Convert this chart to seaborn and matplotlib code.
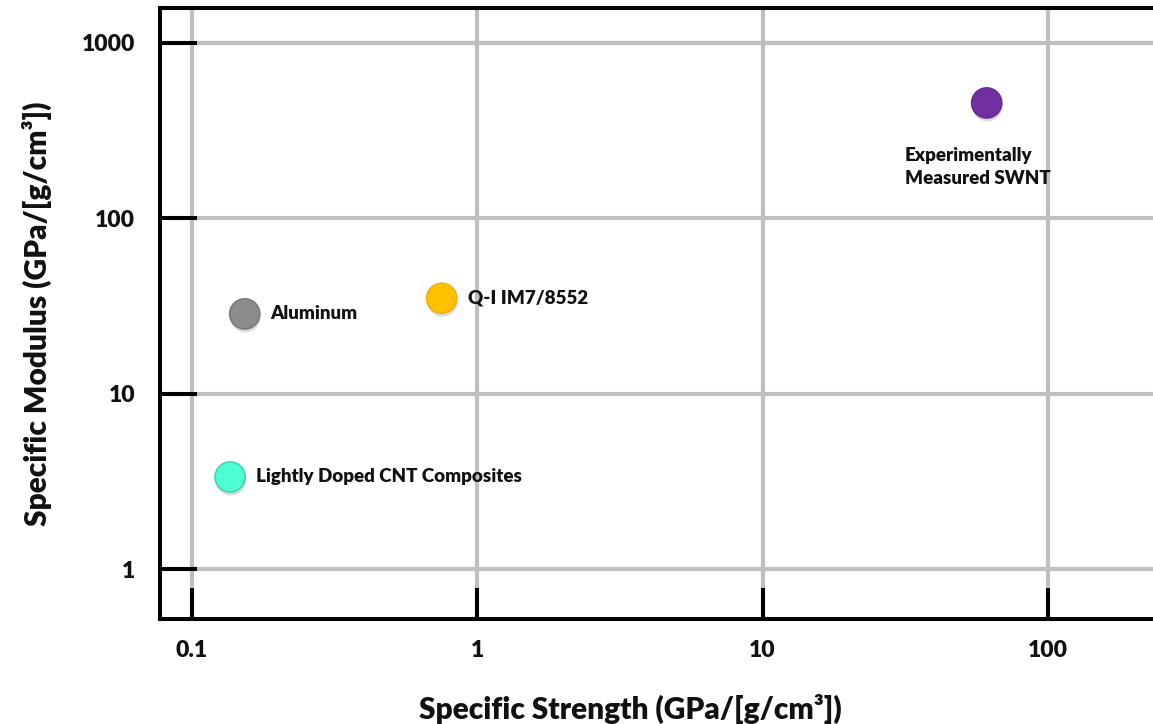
import matplotlib
matplotlib.use("Agg")
import matplotlib.pyplot as plt
import matplotlib.patheffects as pe
import matplotlib.ticker as mticker
import numpy as np
import pandas as pd
import seaborn as sns

# Material property data
materials = ["Aluminum", "Q-I IM7/8552", "Lightly Doped CNT Composites", "Experimentally\nMeasured SWNT"]
specific_strength = [0.153, 0.75, 0.136, 61.0]      # GPa/[g/cm^3]
specific_modulus = [28.5, 35.0, 3.35, 455.0]        # GPa/[g/cm^3]
colors = ["#8c8c8c", "#ffc000", "#4dffd2", "#7030a0"]
edge_colors = ["#7a7a7a", "#f0b400", "#3fd6b0", "#6a2c98"]

x_ticks = [0.1, 1, 10, 100]
x_tick_labels = ["0.1", "1", "10", "100"]
y_ticks = [1, 10, 100, 1000]
y_tick_labels = ["1", "10", "100", "1000"]

df = pd.DataFrame({"material": materials,
                   "strength": specific_strength,
                   "modulus": specific_modulus})

sns.set_style("white")
plt.rcParams["font.family"] = ["Lato", "DejaVu Sans"]
WEIGHT = "heavy"

W, H = 1153, 724
fig = plt.figure(figsize=(W / 100, H / 100), dpi=100)
ax = fig.add_axes([160 / W, (H - 619) / H, (W - 160) / W, (619 - 8) / H])

sns.scatterplot(data=df, x="strength", y="modulus", hue="material",
                palette=dict(zip(materials, colors)), s=470,
                edgecolor=edge_colors, linewidth=1.2, legend=False, ax=ax, zorder=3)
for coll in ax.collections:
    coll.set_path_effects([pe.SimplePatchShadow(offset=(0.5, -2.5), shadow_rgbFace="#9a9a9a", alpha=0.35),
                           pe.Normal()])

ax.set_xscale("log")
ax.set_yscale("log")
ax.set_xlim(0.07722, 233.5)
ax.set_ylim(0.5188, 1583)

ax.xaxis.set_major_locator(mticker.FixedLocator(x_ticks))
ax.yaxis.set_major_locator(mticker.FixedLocator(y_ticks))
ax.xaxis.set_minor_locator(mticker.NullLocator())
ax.yaxis.set_minor_locator(mticker.NullLocator())
ax.set_xticklabels(x_tick_labels)
ax.set_yticklabels(y_tick_labels)

ax.set_axisbelow(True)
ax.grid(True, which="major", color="#bfbfbf", linewidth=3)

ax.tick_params(axis="y", left=True, direction="in", length=26.5, width=2.9, color="black",
               pad=18, labelsize=16.5)
ax.tick_params(axis="x", bottom=True, direction="in", length=22.5, width=2.9, color="black",
               pad=15, labelsize=16.5)
for lbl in ax.get_xticklabels() + ax.get_yticklabels():
    lbl.set_fontweight(WEIGHT)
    lbl.set_color("#111111")

for side in ["left", "bottom", "top"]:
    ax.spines[side].set_visible(True)
    ax.spines[side].set_color("black")
    ax.spines[side].set_linewidth(2.9)
ax.spines["right"].set_visible(False)

ax.set_xlabel("Specific Strength (GPa/[g/cm³])", fontsize=21.5, fontweight=WEIGHT, color="#111111")
ax.set_ylabel("Specific Modulus (GPa/[g/cm³])", fontsize=21.5, fontweight=WEIGHT, color="#111111")
ax.xaxis.set_label_coords(0.474, -0.122)
ax.yaxis.set_label_coords(-0.109, 0.5)

# Point annotations
offsets = [(18.7, 0), (18.7, 0), (18.7, 0), (-59, -46)]
for name, xv, yv, off in zip(materials, specific_strength, specific_modulus, offsets):
    ax.annotate(name, (xv, yv), xytext=off, textcoords="offset points",
                ha="left", va="center", fontsize=13.5, fontweight=WEIGHT,
                color="#111111", linespacing=1.4)

fig.savefig("out.png", dpi=100, facecolor="white")
